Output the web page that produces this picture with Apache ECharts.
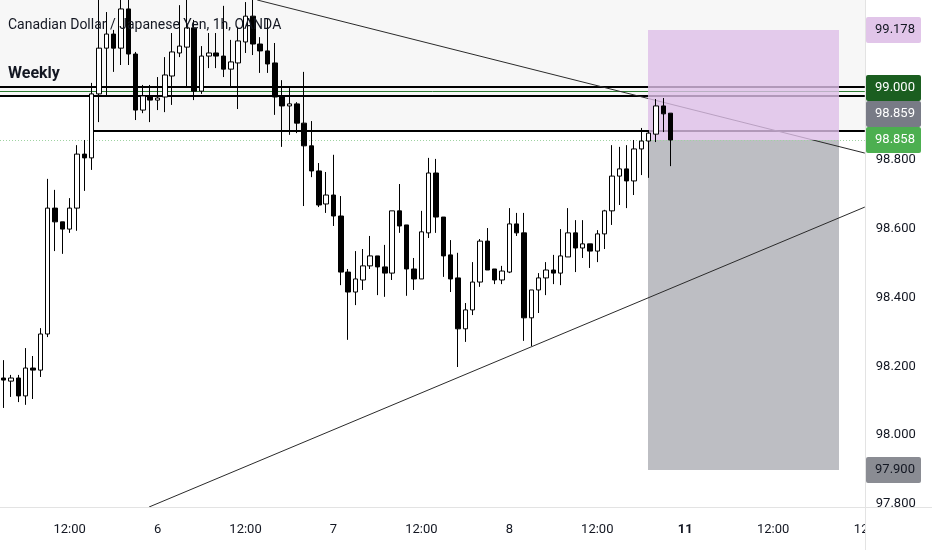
<!DOCTYPE html>
<html>
<head>
<meta charset="utf-8">
<script src="https://cdn.jsdelivr.net/npm/echarts@6/dist/echarts.min.js"></script>
<style>
  html, body { margin: 0; padding: 0; background: #ffffff; }
  #chart { width: 932px; height: 550px; }
</style>
</head>
<body>
<div id="chart"></div>
<script>
// ---------------- DATA ----------------
// trading sessions: [day, firstHour, lastHour]
const sessions = [[5, 3, 23], [6, 0, 23], [7, 0, 23], [8, 0, 20], [10, 21, 23], [11, 0, 23], [12, 0, 0]];
const categories = [];
sessions.forEach(([d, a, b]) => { for (let h = a; h <= b; h++) categories.push(d + ' ' + String(h).padStart(2, '0') + ':00'); });

const open = [98.166,98.157,98.166,98.114,98.195,98.189,98.294,98.660,98.620,98.599,
98.660,98.817,98.806,98.992,99.125,99.166,99.125,99.239,99.108,98.945,
98.983,98.974,98.983,99.044,99.111,99.128,99.184,99.000,99.102,99.111,
99.102,99.064,99.082,99.143,99.218,99.137,99.117,99.082,98.983,98.957,
98.963,98.907,98.841,98.768,98.672,98.698,98.637,98.474,98.416,98.451,
98.492,98.521,98.489,98.471,98.652,98.611,98.483,98.454,98.588,98.762,
98.634,98.524,98.457,98.309,98.364,98.445,98.564,98.483,98.451,98.474,
98.614,98.588,98.341,98.422,98.457,98.480,98.471,98.518,98.588,98.544,
98.556,98.535,98.585,98.652,98.753,98.774,98.739,98.832,98.855,98.875,
98.957,98.936];
const close = [98.160,98.166,98.114,98.195,98.189,98.294,98.660,98.620,98.599,98.660,
98.817,98.806,98.992,99.125,99.166,99.125,99.239,99.108,98.945,98.986,
98.974,98.980,99.047,99.114,99.131,99.184,99.000,99.102,99.111,99.102,
99.064,99.085,99.146,99.218,99.137,99.117,99.079,98.983,98.957,98.963,
98.907,98.841,98.768,98.669,98.698,98.637,98.474,98.416,98.454,98.492,
98.521,98.489,98.471,98.652,98.608,98.483,98.454,98.591,98.762,98.634,
98.521,98.454,98.309,98.364,98.445,98.564,98.480,98.451,98.477,98.614,
98.588,98.341,98.422,98.457,98.480,98.471,98.521,98.588,98.544,98.556,
98.535,98.585,98.652,98.753,98.774,98.739,98.832,98.855,98.878,98.957,
98.934,98.858];
const high = [98.218,98.175,98.175,98.253,98.230,98.311,98.745,98.713,98.620,98.689,
98.843,98.858,99.024,99.280,99.230,99.178,99.280,99.280,99.114,99.018,
99.018,99.041,99.099,99.169,99.250,99.280,99.207,99.131,99.169,99.169,
99.248,99.149,99.187,99.259,99.280,99.157,99.210,99.140,99.032,99.009,
98.968,99.056,98.913,98.791,98.765,98.815,98.695,98.483,98.535,98.541,
98.579,98.521,98.553,98.652,98.730,98.611,98.515,98.652,98.806,98.803,
98.634,98.567,98.530,98.384,98.503,98.570,98.602,98.483,98.492,98.660,
98.646,98.646,98.422,98.471,98.503,98.524,98.599,98.660,98.625,98.625,
98.556,98.596,98.655,98.843,98.838,98.843,98.858,98.893,98.887,98.977,
98.980,98.936];
const low = [98.079,98.111,98.096,98.088,98.105,98.169,98.285,98.535,98.527,98.588,
98.594,98.710,98.771,98.910,98.983,99.056,99.076,99.076,98.916,98.936,
98.910,98.945,98.939,98.960,99.099,99.012,98.974,98.992,99.067,99.067,
99.041,99.015,98.948,99.111,99.105,99.053,99.053,98.931,98.838,98.873,
98.878,98.666,98.750,98.663,98.646,98.608,98.436,98.277,98.378,98.422,
98.483,98.407,98.402,98.451,98.588,98.405,98.422,98.454,98.573,98.588,
98.460,98.416,98.198,98.271,98.349,98.431,98.480,98.439,98.439,98.471,
98.579,98.274,98.259,98.355,98.407,98.439,98.436,98.518,98.474,98.515,
98.486,98.503,98.541,98.611,98.669,98.660,98.698,98.756,98.748,98.852,
98.881,98.782];

// drawings (x in bar index, y in price)
const priceMin = 97.791, priceMax = 99.265;
const weeklyZone = [99.012, 98.986];     // two thick weekly lines
const weeklyBoxLow = 98.885;             // lower edge of weekly box
const weeklyBoxStart = 12.2;             // bar index where the box starts
const levelPrice = 99.000;               // green level line
const lastPrice = 98.858;
const trendDown = [[34.6, 99.265], [117.5, 98.820]];
const trendUp = [[19.84, 97.791], [117.5, 98.663]];
const positionX = [87.9, 114.0];
const positionStop = 99.178, positionEntry = 98.859, positionTarget = 97.900;

const titleText = 'Canadian Dollar / Japanese Yen, 1h, OANDA';
const zoneText = 'Weekly';

// ---------------- CHART ----------------
const chart = echarts.init(document.getElementById('chart'), null, { renderer: 'canvas' });
const xLeft = -0.5, xRight = categories.length - 0.5;
const FONT = 'Roboto, "Noto Sans", sans-serif';

function layer(z, build) {
  return {
    type: 'custom', xAxisIndex: 1, yAxisIndex: 0, z: z, silent: true, clip: true,
    data: [[0, 98.5]],
    renderItem: (params, api) => ({ type: 'group', children: build(api) })
  };
}
function rect(api, x1, y1, x2, y2, style) {
  const a = api.coord([x1, y1]), b = api.coord([x2, y2]);
  return { type: 'rect', shape: { x: Math.round(a[0]), y: Math.round(a[1]), width: Math.round(b[0]) - Math.round(a[0]), height: Math.round(b[1]) - Math.round(a[1]) }, style: style };
}
function seg(api, p1, p2, style) {
  const a = api.coord(p1), b = api.coord(p2);
  return { type: 'line', shape: { x1: a[0], y1: a[1], x2: b[0], y2: b[1] }, style: style };
}
function hline(api, x1, x2, price, style) {
  const a = api.coord([x1, price]), b = api.coord([x2, price]);
  const w = style.lineWidth || 1;
  const y = (w % 2 === 1) ? Math.round(a[1]) + 0.5 : Math.round(a[1]);
  return { type: 'line', shape: { x1: a[0], y1: y, x2: b[0], y2: y }, style: style };
}

const ohlc = open.map((o, i) => [o, close[i], low[i], high[i]]);

chart.setOption({
  animation: false,
  backgroundColor: '#ffffff',
  grid: { left: -3.68, right: 67.2, top: 0, bottom: 43, containLabel: false },
  xAxis: [{
    type: 'category', data: categories, boundaryGap: true,
    axisLine: { show: false }, axisTick: { show: false }, splitLine: { show: false },
    axisLabel: {
      margin: 16, color: '#131722', fontSize: 13, fontFamily: FONT, hideOverlap: false,
      interval: (idx, val) => { const h = val.split(' ')[1]; return h === '00:00' || h === '12:00'; },
      formatter: (val) => { const p = val.split(' '); if (p[1] === '00:00') return p[0] === '11' ? '{b|11}' : p[0]; return '12:00'; },
      rich: { b: { fontWeight: 'bold', fontSize: 13, color: '#131722', fontFamily: FONT } }
    }
  }, {
    type: 'value', min: xLeft, max: xRight, show: false
  }],
  yAxis: [{
    type: 'value', position: 'right', min: priceMin, max: priceMax, splitNumber: 7, scale: true,
    axisLine: { show: false }, axisTick: { show: false }, splitLine: { show: false },
    axisLabel: {
      margin: 11, color: '#131722', fontSize: 13, fontFamily: FONT,
      formatter: (v) => { const k = Math.round(v * 5); return Math.abs(v * 5 - k) < 1e-6 ? v.toFixed(3) : ''; }
    }
  }],
  series: [
    layer(1, (api) => [
      rect(api, xLeft, priceMax, xRight, weeklyZone[1], { fill: '#f7f7f7' }),
      rect(api, weeklyBoxStart, weeklyZone[1], xRight, weeklyBoxLow, { fill: '#f7f7f7' })
    ]),
    layer(2, (api) => [
      rect(api, positionX[0], positionEntry, positionX[1], positionTarget, { fill: '#bdbec3' })
    ]),
    layer(3, (api) => [
      hline(api, xLeft, xRight, lastPrice, { stroke: '#9fd3a2', lineWidth: 1, lineDash: [1, 2] }),
      hline(api, xLeft, xRight, weeklyZone[0], { stroke: '#000000', lineWidth: 2 }),
      hline(api, xLeft, xRight, weeklyZone[1], { stroke: '#000000', lineWidth: 2 }),
      hline(api, weeklyBoxStart, xRight, weeklyBoxLow, { stroke: '#000000', lineWidth: 2 }),
      hline(api, xLeft, xRight, levelPrice, { stroke: '#2e7d32', lineWidth: 1 }),
      seg(api, trendDown[0], trendDown[1], { stroke: '#2a2a2a', lineWidth: 1 }),
      seg(api, trendUp[0], trendUp[1], { stroke: '#2a2a2a', lineWidth: 1 })
    ]),
    layer(4, (api) => [
      rect(api, positionX[0], positionStop, positionX[1], positionEntry, { fill: 'rgba(221,190,231,0.8)' })
    ]),
    {
      type: 'candlestick', xAxisIndex: 0, yAxisIndex: 0, z: 5, data: ohlc, barWidth: 5, clip: true,
      itemStyle: { color: '#ffffff', color0: '#000000', borderColor: '#000000', borderColor0: '#000000', borderWidth: 1 }
    }
  ]
});

// ---------------- OVERLAYS (positions from the axis scale) ----------------
const AXIS_X = 865;
const yOf = (p) => chart.convertToPixel({ yAxisIndex: 0 }, p);
function tag(price, bg, fg, cy) {
  return {
    type: 'group', z: 100, children: [
      { type: 'rect', z: 100, shape: { x: AXIS_X + 1, y: Math.round(cy - 13), width: 55, height: 26, r: 2 }, style: { fill: bg } },
      { type: 'text', z: 101, x: AXIS_X + 30, y: Math.round(cy), style: { text: price.toFixed(3), fill: fg, font: '13px ' + FONT, align: 'center', verticalAlign: 'middle', textAlign: 'center', textVerticalAlign: 'middle' } }
    ]
  };
}
const yLast = yOf(lastPrice);
const yEntry = Math.min(yOf(positionEntry), yLast - 26);
const yLevel = Math.min(yOf(levelPrice), yEntry - 26);

chart.setOption({
  graphic: [
    { type: 'rect', z: 90, shape: { x: AXIS_X + 1, y: 508, width: 70, height: 42 }, style: { fill: '#ffffff' } },
    { type: 'line', z: 91, shape: { x1: 0, y1: 507.5, x2: 932, y2: 507.5 }, style: { stroke: '#e3e3e3', lineWidth: 1 } },
    { type: 'line', z: 91, shape: { x1: AXIS_X + 0.5, y1: 0, x2: AXIS_X + 0.5, y2: 550 }, style: { stroke: '#e3e3e3', lineWidth: 1 } },
    { type: 'text', z: 95, x: 8, y: 25, style: { text: titleText, fill: '#131722', font: '14px ' + FONT, verticalAlign: 'middle', textVerticalAlign: 'middle' } },
    { type: 'text', z: 95, x: 8, y: 74, style: { text: zoneText, fill: '#131722', font: 'bold 16px ' + FONT, verticalAlign: 'middle', textVerticalAlign: 'middle' } },
    tag(positionStop, '#e1c5e9', '#131722', yOf(positionStop)),
    tag(levelPrice, '#1b5e20', '#ffffff', yLevel),
    tag(positionEntry, '#787b86', '#ffffff', yEntry),
    tag(lastPrice, '#4caf50', '#ffffff', yLast),
    tag(positionTarget, '#8a8c93', '#131722', yOf(positionTarget))
  ]
});
</script>
</body>
</html>
